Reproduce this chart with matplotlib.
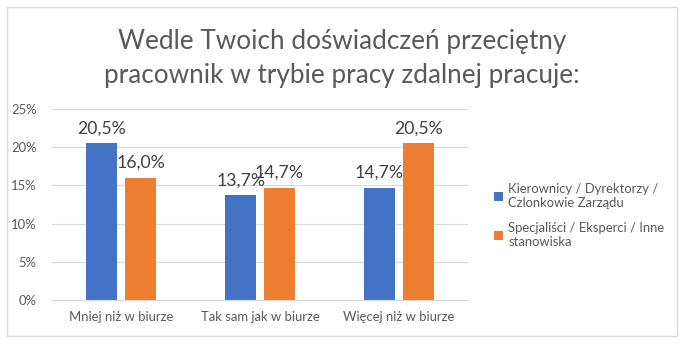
import matplotlib
matplotlib.use("Agg")
import matplotlib.pyplot as plt
from matplotlib.patches import Rectangle
from matplotlib.ticker import FuncFormatter
import numpy as np

plt.rcParams['font.family'] = ['Lato', 'DejaVu Sans']

categories = ["Mniej niż w biurze", "Tak sam jak w biurze", "Więcej niż w biurze"]
series_names = ["Kierownicy / Dyrektorzy /\nCzlonkowie Zarządu",
                "Specjaliści / Eksperci / Inne\nstanowiska"]
managers = [20.5, 13.7, 14.7]
specialists = [16.0, 14.7, 20.5]
colors = ["#4472C4", "#ED7D31"]
title = "Wedle Twoich doświadczeń przeciętny\npracownik w trybie pracy zdalnej pracuje:"

fig = plt.figure(figsize=(6.9, 3.46), dpi=100)
fig.patch.set_facecolor("white")

# chart border
fig.patches.append(Rectangle((7 / 690, 10 / 346), 670 / 690, 329 / 346,
                             transform=fig.transFigure, fill=False,
                             edgecolor="#D9D9D9", linewidth=1))

ax = fig.add_axes([52 / 690, 46 / 346, 416 / 690, 191 / 346])
x = np.arange(len(categories))
w = 0.223
off = 0.14
b1 = ax.bar(x - off, managers, w, color=colors[0], label=series_names[0])
b2 = ax.bar(x + off, specialists, w, color=colors[1], label=series_names[1])

for bars, vals in ((b1, managers), (b2, specialists)):
    for rect, v in zip(bars, vals):
        ax.text(rect.get_x() + rect.get_width() / 2, v + 0.9,
                f"{v:.1f}%".replace(".", ","), ha="center", va="bottom",
                fontsize=12.7, color="#404040")

ax.set_xlim(-0.5, 2.5)
ax.set_ylim(0, 25)
ax.set_yticks(np.arange(0, 26, 5))
ax.yaxis.set_major_formatter(FuncFormatter(lambda v, p: f"{v:.0f}%"))
ax.set_xticks(x)
ax.set_xticklabels(categories)
ax.grid(axis="y", color="#D9D9D9", linewidth=0.8)
ax.set_axisbelow(True)
for s in ("top", "right", "left"):
    ax.spines[s].set_visible(False)
ax.spines["bottom"].set_color("#D9D9D9")
ax.tick_params(axis="both", length=0, labelsize=9.4, labelcolor="#595959")
ax.tick_params(axis="y", pad=11)
ax.tick_params(axis="x", pad=8)

fig.text(0.496, 0.831, title, ha="center", va="center", fontsize=18.8,
         color="#595959", linespacing=1.45)

fig.legend(handles=[b1, b2], labels=series_names, loc="upper left",
           bbox_to_anchor=(482 / 690, 1 - 171 / 346), frameon=False,
           fontsize=9.4, labelcolor="#595959", handlelength=0.7,
           handleheight=0.7, handletextpad=0.4, labelspacing=1.0)

fig.savefig("out.png", dpi=100, facecolor="white")
